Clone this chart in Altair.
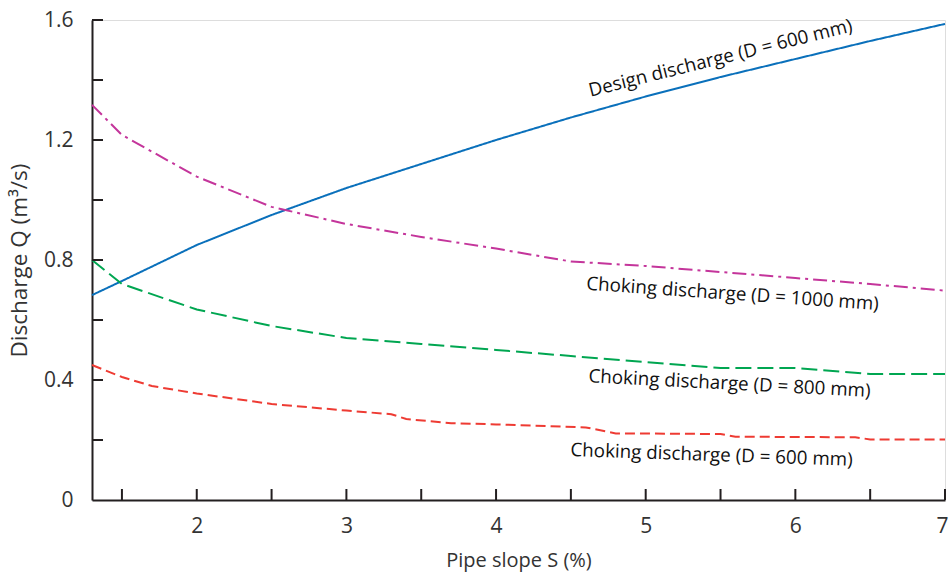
import altair as alt
import pandas as pd

# ---- data ----
series_names = [
    "Design discharge (D = 600 mm)",
    "Choking discharge (D = 1000 mm)",
    "Choking discharge (D = 800 mm)",
    "Choking discharge (D = 600 mm)",
]
series_colors = ["#0a70bb", "#c4359b", "#00a651", "#ee3b33"]
series_dashes = [[1, 0], [14, 5, 3, 5], [16, 6], [10, 5]]

slope_design = [1.3, 1.5, 2.0, 2.5, 3.0, 3.5, 4.0, 4.5, 5.0, 5.5, 6.0, 6.5, 7.0]
q_design = [0.683, 0.73, 0.85, 0.95, 1.04, 1.12, 1.20, 1.275, 1.345, 1.41, 1.47, 1.53, 1.587]

slope_1000 = [1.3, 1.5, 2.0, 2.5, 3.0, 3.5, 4.0, 4.5, 5.0, 5.5, 6.0, 6.5, 7.0]
q_1000 = [1.317, 1.217, 1.078, 0.977, 0.92, 0.877, 0.838, 0.795, 0.78, 0.76, 0.74, 0.72, 0.698]

slope_800 = [1.3, 1.5, 2.0, 2.5, 3.0, 3.5, 4.0, 4.5, 5.0, 5.5, 6.0, 6.5, 7.0]
q_800 = [0.80, 0.72, 0.635, 0.58, 0.54, 0.52, 0.50, 0.48, 0.46, 0.44, 0.44, 0.42, 0.42]

slope_600 = [1.3, 1.5, 1.7, 2.0, 2.5, 3.0, 3.3, 3.4, 3.7, 4.0, 4.6, 4.8, 5.5, 5.6, 6.4, 6.5, 7.0]
q_600 = [0.45, 0.41, 0.38, 0.355, 0.32, 0.298, 0.286, 0.27, 0.256, 0.252, 0.242, 0.222, 0.22,
         0.211, 0.209, 0.202, 0.202]

x_tick_labels = [2, 3, 4, 5, 6, 7]
x_ticks_all = [1.5, 2, 2.5, 3, 3.5, 4, 4.5, 5, 5.5, 6, 6.5, 7]
y_tick_labels = [0, 0.4, 0.8, 1.2, 1.6]
y_ticks_all = [0.2, 0.4, 0.6, 0.8, 1.0, 1.2, 1.4, 1.6]

# annotation anchors (data units) and angles
label_s = [5.50, 5.58, 5.56, 5.44]
label_q = [1.473, 0.687, 0.388, 0.15]
label_angle = [346, 4, 3, 2]

FONT = "Open Sans"
AXIS_COLOR = "#231f20"
LABEL_COLOR = "#333333"

rows = []
for name, ss, qq in zip(series_names,
                        [slope_design, slope_1000, slope_800, slope_600],
                        [q_design, q_1000, q_800, q_600]):
    for i, (s, q) in enumerate(zip(ss, qq)):
        rows.append({"series": name, "S": s, "Q": q, "i": i})
df = pd.DataFrame(rows)

xscale = alt.Scale(domain=[1.3, 7], nice=False, zero=False)
yscale = alt.Scale(domain=[0, 1.6], nice=False, zero=True)

lines = alt.Chart(df).mark_line(strokeWidth=2, strokeCap="butt").encode(
    x=alt.X("S:Q", scale=xscale,
            axis=alt.Axis(values=x_tick_labels, format="d", ticks=False, grid=False,
                          domainColor=AXIS_COLOR, domainWidth=2,
                          labelFlush=True, labelFlushOffset=3,
                          labelFont=FONT, labelFontSize=21, labelColor=LABEL_COLOR,
                          labelPadding=15,
                          title="Pipe slope S (%)", titleFont=FONT, titleFontSize=20,
                          titleFontWeight="normal", titleColor=LABEL_COLOR, titlePadding=14)),
    y=alt.Y("Q:Q", scale=yscale,
            axis=alt.Axis(values=y_tick_labels, format="~g", ticks=False, grid=False,
                          domainColor=AXIS_COLOR, domainWidth=2, labelFlush=False,
                          labelFont=FONT, labelFontSize=21, labelColor=LABEL_COLOR,
                          labelPadding=19,
                          title="Discharge Q (m³/s)", titleFont=FONT, titleFontSize=22.5,
                          titleFontWeight="normal", titleColor=LABEL_COLOR, titlePadding=12)),
    color=alt.Color("series:N", scale=alt.Scale(domain=series_names, range=series_colors),
                    legend=None),
    strokeDash=alt.StrokeDash("series:N",
                              scale=alt.Scale(domain=series_names, range=series_dashes),
                              legend=None),
    order="i:Q",
)

xt = alt.Chart(pd.DataFrame({"S": x_ticks_all})).mark_rule(
    color=AXIS_COLOR, strokeWidth=2).encode(
    x=alt.X("S:Q", scale=xscale), y=alt.value(480), y2=alt.value(469))

yt = alt.Chart(pd.DataFrame({"Q": y_ticks_all})).mark_rule(
    color=AXIS_COLOR, strokeWidth=2).encode(
    y=alt.Y("Q:Q", scale=yscale), x=alt.value(0), x2=alt.value(11))

texts = []
for name, s, q, a in zip(series_names, label_s, label_q, label_angle):
    t = alt.Chart(pd.DataFrame({"S": [s], "Q": [q], "t": [name]})).mark_text(
        font=FONT, fontSize=18.8, color="#111111", angle=a,
        align="center", baseline="middle").encode(
        x=alt.X("S:Q", scale=xscale), y=alt.Y("Q:Q", scale=yscale), text="t:N")
    texts.append(t)

chart = alt.layer(lines, xt, yt, *texts).properties(
    width=853, height=480,
    autosize=alt.AutoSizeParams(type="none"),
    padding={"left": 92, "top": 20, "right": 5, "bottom": 73},
).configure_view(stroke=None).configure(background="white")

chart.save("out.html", embed_options={"renderer": "svg", "actions": False})
